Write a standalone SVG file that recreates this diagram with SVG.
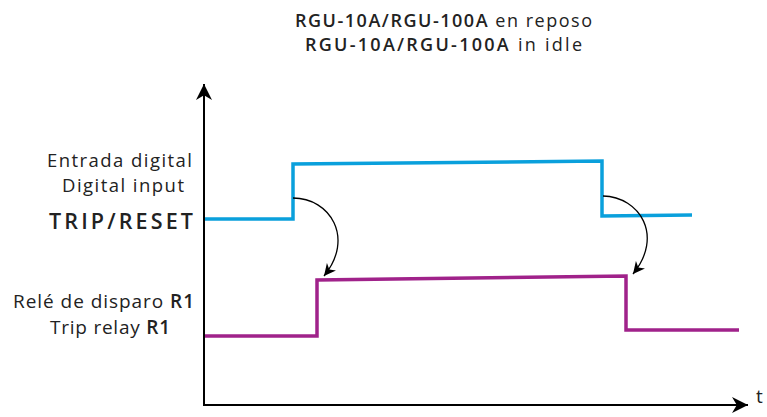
<svg xmlns="http://www.w3.org/2000/svg" width="767" height="417" viewBox="0 0 767 417">
<defs>
<marker id="axisHead" viewBox="0 0 10 10" refX="10" refY="5" markerWidth="16" markerHeight="16" markerUnits="userSpaceOnUse" orient="auto">
<path d="M0,0 L10,5 L0,10 L3,5 Z" fill="#000"/>
</marker>
<marker id="curveHead" viewBox="0 0 10 10" refX="10" refY="5" markerWidth="12" markerHeight="12" markerUnits="userSpaceOnUse" orient="auto">
<path d="M0,0 L10,5 L0,10 L3,5 Z" fill="#000"/>
</marker>
<style>
text{font-family:"Open Sans","Noto Sans","Liberation Sans",sans-serif;fill:#222;}
.t{font-size:18px;}
.l{font-size:18.5px;}
.r{font-size:19px;}
.tr{font-size:21.5px;}
.b{font-weight:600;}
.axis{stroke:#000;stroke-width:2;fill:none;}
.blue{stroke:#0aa0dc;stroke-width:3.5;fill:none;stroke-linejoin:miter;}
.purple{stroke:#a0228a;stroke-width:3.5;fill:none;stroke-linejoin:miter;}
.curve{stroke:#000;stroke-width:1.3;fill:none;}
</style>
</defs>
<g id="title">
<text class="t" x="295" y="27" textLength="297" lengthAdjust="spacing"><tspan class="b">RGU-10A/RGU-100A</tspan> en reposo</text>
<text class="t" x="305" y="51" textLength="277" lengthAdjust="spacing"><tspan class="b">RGU-10A/RGU-100A</tspan> in idle</text>
</g>
<g id="axes">
<line class="axis" x1="204" y1="406" x2="204" y2="84" marker-end="url(#axisHead)"/>
<line class="axis" x1="204" y1="405" x2="748" y2="405" marker-end="url(#axisHead)"/>
<text class="r" x="756" y="403">t</text>
</g>
<g id="digital-input">
<text class="l" x="47" y="167.3" textLength="145" lengthAdjust="spacing">Entrada digital</text>
<text class="l" x="62" y="191.7" textLength="122" lengthAdjust="spacing">Digital input</text>
<text class="tr b" x="49" y="229" textLength="144" lengthAdjust="spacing">TRIP/RESET</text>
<path class="blue" d="M205,219 L293,219 L293,164 L602,161 L602,216 L692,215"/>
</g>
<g id="trip-relay">
<text class="r" x="13" y="308.3" textLength="181" lengthAdjust="spacing">Relé de disparo <tspan class="b">R1</tspan></text>
<text class="r" x="50" y="334.3" textLength="120" lengthAdjust="spacing">Trip relay <tspan class="b">R1</tspan></text>
<path class="purple" d="M205,336 L317,336 L317,280 L626,276 L626,330 L739,330"/>
</g>
<g id="connectors">
<path class="curve" d="M293,198 C330,198 355,238 324,276" marker-end="url(#curveHead)"/>
<path class="curve" d="M603,196 C640,197 664,236 633,274" marker-end="url(#curveHead)"/>
</g>
</svg>
